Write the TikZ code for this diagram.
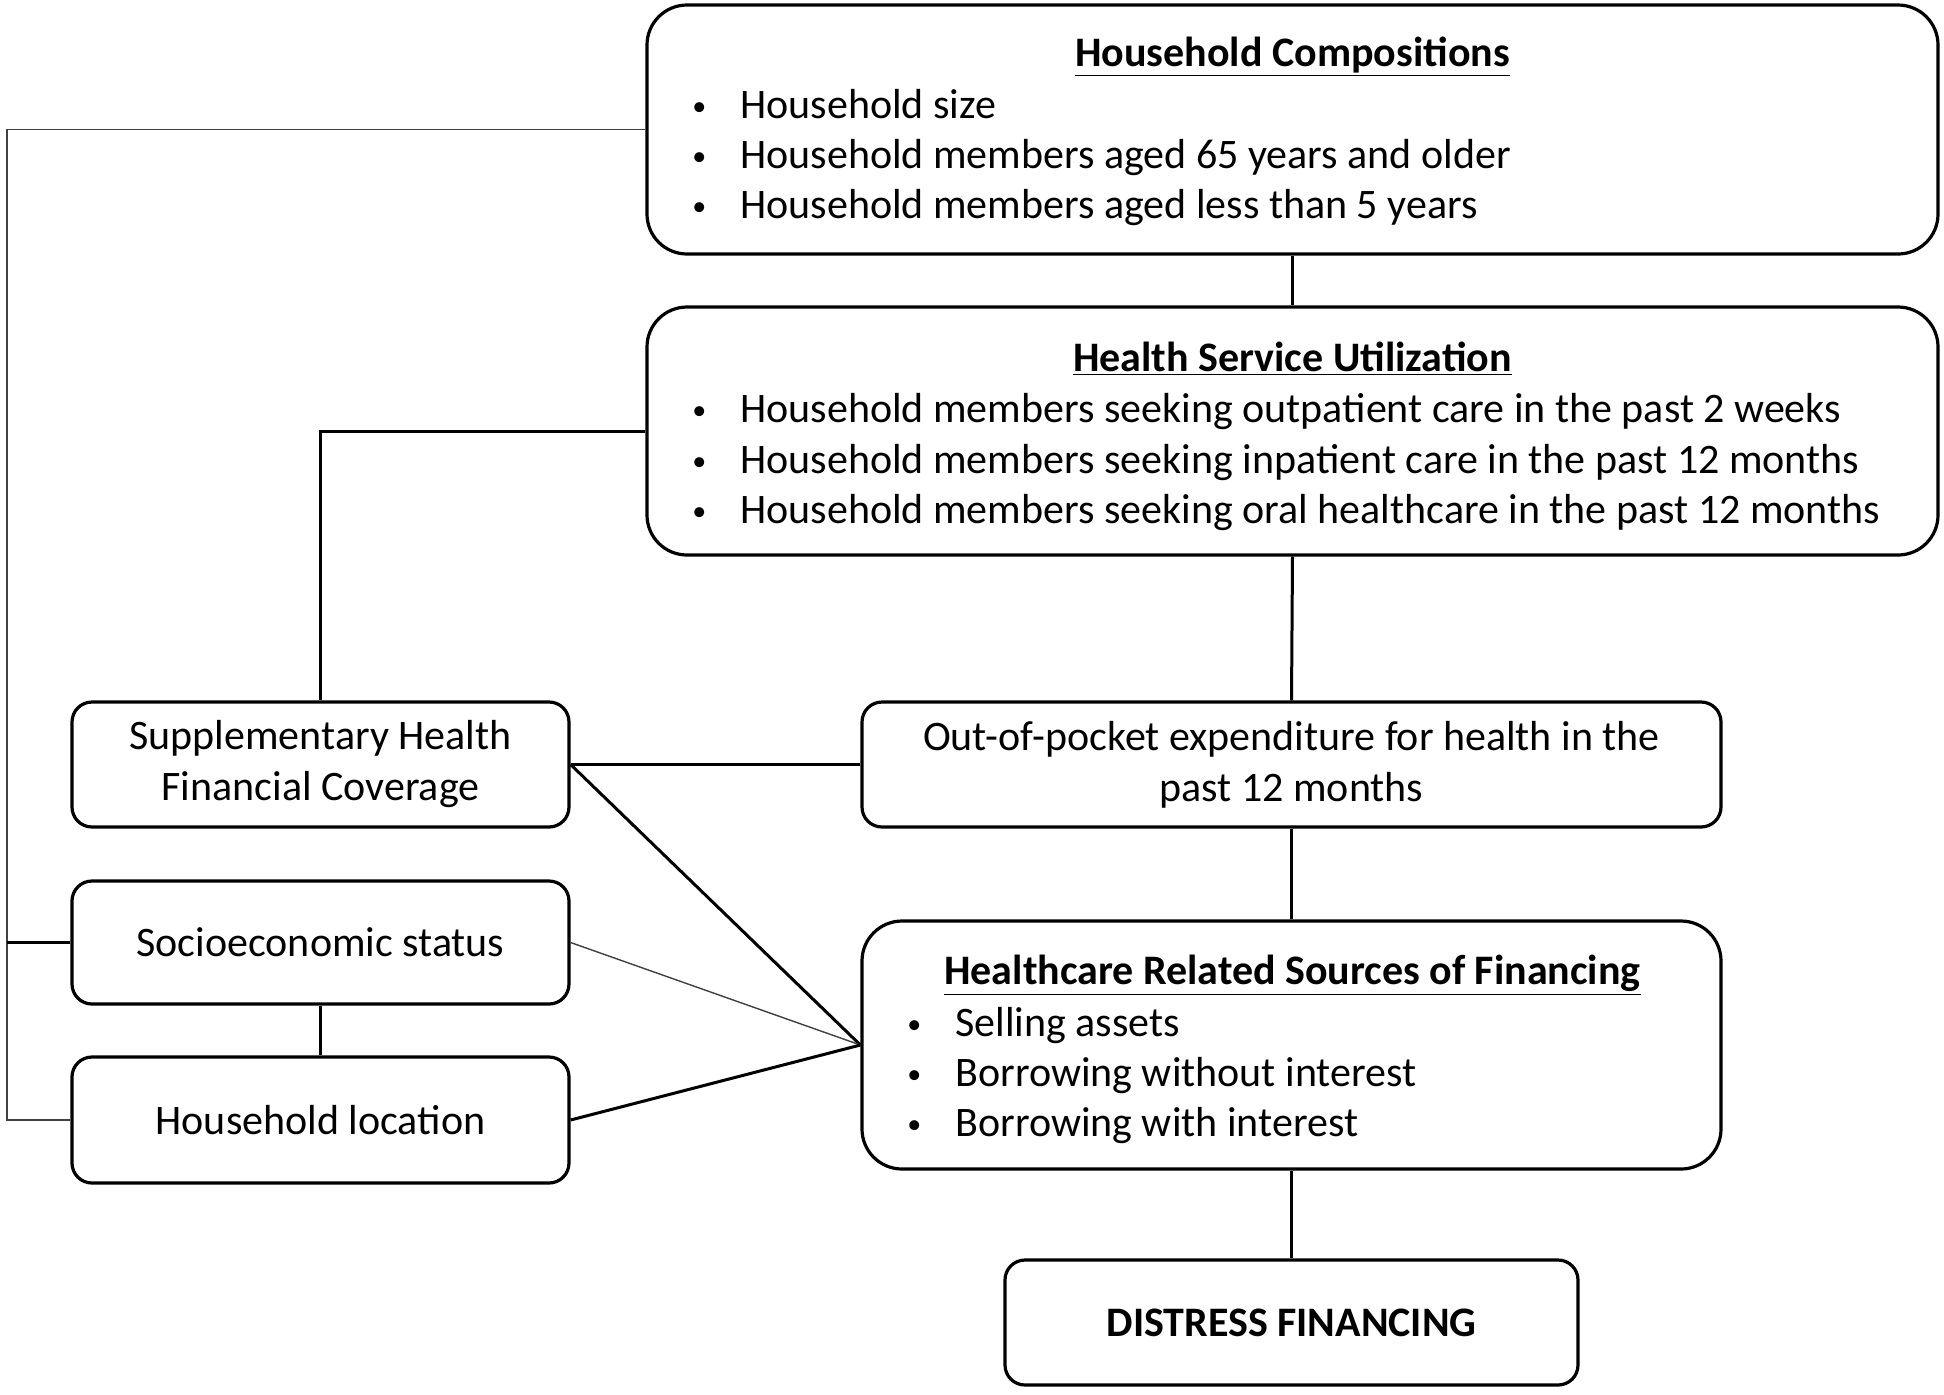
\documentclass[tikz,border=0pt]{standalone}
\usepackage{fontspec}
\setmainfont{Carlito}

\newcommand{\boxfont}{\fontsize{21}{25.5}\selectfont}
\newcommand{\bul}{\makebox[24pt][l]{\raisebox{1.5pt}{\fontsize{14}{14}\selectfont\textbullet}}}

\tikzset{
  box/.style={draw, line width=1.6pt, rounded corners=10pt, inner sep=0pt, align=center},
  bigbox/.style={box, rounded corners=20pt},
  link/.style={line width=1.5pt},
  thinlink/.style={line width=0.7pt, black!75},
  item/.style={anchor=base west, inner sep=0pt},
  heading/.style={anchor=base, inner sep=0pt, font=\boxfont\bfseries},
}

\begin{document}
\begin{tikzpicture}[x=0.5pt, y=-0.5pt, font=\boxfont]
    \useasboundingbox (0,0) rectangle (1944,1394);

    % boxes
    \node[bigbox, minimum width=645.5pt, minimum height=124.5pt] (hc) at (1292.5,129.5) {};
    \node[bigbox, minimum width=645.5pt, minimum height=124pt] (hsu) at (1292.5,431) {};
    \node[box, minimum width=248.5pt, minimum height=62.5pt] (supp) at (320.5,764.5)
        {Supplementary Health\\Financial Coverage};
    \node[box, minimum width=429.5pt, minimum height=62.5pt] (oop) at (1291.5,764.5)
        {Out-of-pocket expenditure for health in the\\past 12 months};
    \node[box, minimum width=248.5pt, minimum height=61.5pt] (ses) at (320.5,942.5) {Socioeconomic status};
    \node[box, minimum width=248.5pt, minimum height=63pt] (hl) at (320.5,1120) {Household location};
    \node[bigbox, minimum width=429.5pt, minimum height=124pt] (hrsf) at (1291.5,1045) {};
    \node[box, minimum width=286.5pt, minimum height=62.5pt] (df) at (1291.5,1322.5) {\textbf{DISTRESS FINANCING}};

    % box contents
    \node[heading] (hctitle) at (1292.5,66) {\underline{Household Compositions}};
    \foreach \txt [count=\i] in {Household size, Household members aged 65 years and older,
        Household members aged less than 5 years} {
        \node[item] (hcitem\i) at (692,68+50*\i) {\bul\txt};
    };

    \node[heading] (hsutitle) at (1292.5,371) {\underline{Health Service Utilization}};
    \foreach \txt [count=\i] in {Household members seeking outpatient care in the past 2 weeks,
        Household members seeking inpatient care in the past 12 months,
        Household members seeking oral healthcare in the past 12 months} {
        \node[item] (hsuitem\i) at (692,372+50.5*\i) {\bul\txt};
    };

    \node[heading] (hrsftitle) at (1292.5,984) {\underline{Healthcare Related Sources of Financing}};
    \foreach \txt [count=\i] in {Selling assets, Borrowing without interest, Borrowing with interest} {
        \node[item] (hrsfitem\i) at (907,986+50*\i) {\bul\txt};
    };

    % connectors
    \coordinate (leftbus) at (7,0);
    \draw[thinlink] (hc.west) -- (hc.west -| leftbus) -- (hl.west -| leftbus) -- (hl.west);
    \draw[link] (ses.west) -- (ses.west -| leftbus);
    \draw[link] (hsu.west) -| (supp.north);
    \draw[link] (hc.south) -- (hsu.north);
    \draw[link] (hsu.south) -- (oop.north);
    \draw[link] (oop.south) -- (hrsf.north);
    \draw[link] (hrsf.south) -- (df.north);
    \draw[link] (ses.south) -- (hl.north);
    \draw[link] (supp.east) -- (oop.west);
    \draw[link] (supp.east) -- (hrsf.west);
    \draw[thinlink] (ses.east) -- (hrsf.west);
    \draw[link] (hl.east) -- (hrsf.west);
\end{tikzpicture}
\end{document}
